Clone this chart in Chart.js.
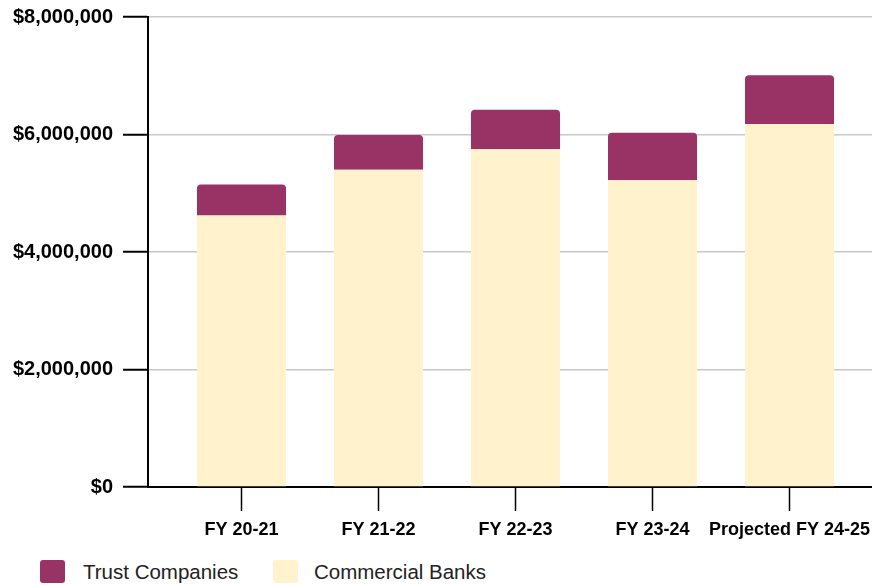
<!DOCTYPE html>
<html>
<head>
<meta charset="utf-8">
<script src="https://cdn.jsdelivr.net/npm/chart.js@4"></script>
<style>
  body { margin: 0; background: #fff; }
  #wrap { position: relative; width: 872px; height: 585px; }
  #chart { position: absolute; left: 0; top: 0; }
  #legend { position: absolute; left: 0; top: 560px; font-family: "Liberation Sans", Arial, sans-serif; font-size: 20.5px; color: #222; }
  .item { position: absolute; top: 0; height: 23px; white-space: nowrap; }
  .swatch { position: absolute; left: 0; top: 0; width: 25px; height: 23px; border-radius: 3px; }
  .label { position: absolute; top: 0; line-height: 23px; }
</style>
</head>
<body>
<div id="wrap">
  <canvas id="chart" width="872" height="550"></canvas>
  <div id="legend"></div>
</div>
<script>
// Fiscal years on the x axis
const categories = ["FY 20-21", "FY 21-22", "FY 22-23", "FY 23-24", "Projected FY 24-25"];
// Stacked amounts (dollars)
const commercialBanks = [4620000, 5400000, 5750000, 5220000, 6180000];
const trustCompanies = [530000, 590000, 670000, 810000, 830000];
const yTicks = [0, 2000000, 4000000, 6000000, 8000000];

const colors = { trust: "#993366", commercial: "#FFF2CC" };

Chart.defaults.font.family = '"Liberation Sans", Arial, sans-serif';
Chart.defaults.color = "#000";

const toPoints = arr => arr.map((v, i) => ({ x: i, y: v }));

const datasets = [
  {
    label: "Commercial Banks",
    data: toPoints(commercialBanks),
    backgroundColor: colors.commercial,
    borderWidth: 0
  },
  {
    label: "Trust Companies",
    data: toPoints(trustCompanies),
    backgroundColor: colors.trust,
    borderWidth: 0,
    borderRadius: { topLeft: 4, topRight: 4, bottomLeft: 0, bottomRight: 0 },
    borderSkipped: false
  }
];

new Chart(document.getElementById("chart"), {
  type: "bar",
  data: { datasets },
  options: {
    responsive: false,
    animation: false,
    layout: { padding: { top: 17, right: 0, bottom: 0, left: 0 } },
    categoryPercentage: 1,
    barPercentage: 0.65,
    plugins: { legend: { display: false }, tooltip: { enabled: false } },
    scales: {
      x: {
        type: "linear",
        stacked: true,
        offset: false,
        min: -0.6825,
        max: 4.602,
        afterBuildTicks: s => { s.ticks = categories.map((c, i) => ({ value: i })); },
        afterFit: s => { s.height = 63; s.paddingLeft = 0; s.paddingRight = 0; },
        grid: { offset: false, drawOnChartArea: false, drawTicks: true, tickLength: 24, tickColor: "#000", tickWidth: 1.5 },
        border: { display: true, color: "#000", width: 2 },
        ticks: {
          padding: 8,
          autoSkip: false,
          maxRotation: 0,
          font: { size: 18, weight: "bold" },
          callback: v => categories[v]
        }
      },
      y: {
        stacked: true,
        min: 0,
        max: 8000000,
        afterBuildTicks: s => { s.ticks = yTicks.map(v => ({ value: v })); },
        afterFit: s => { s.width = 148; s.paddingTop = 0; s.paddingBottom = 0; },
        grid: { color: "#c8c8c8", lineWidth: 1.5, tickLength: 25, tickColor: "#000", tickWidth: 2 },
        border: { display: true, color: "#000", width: 2 },
        ticks: {
          padding: 10,
          font: { size: 20, weight: "bold" },
          callback: v => "$" + v.toLocaleString("en-US")
        }
      }
    }
  }
});

// Legend below the plot
const legend = document.getElementById("legend");
const legendItems = [
  { text: "Trust Companies", color: colors.trust, left: 40, textLeft: 43 },
  { text: "Commercial Banks", color: colors.commercial, left: 273, textLeft: 41 }
];
legendItems.forEach(it => {
  const el = document.createElement("div");
  el.className = "item";
  el.style.left = it.left + "px";
  el.innerHTML = `<div class="swatch" style="background:${it.color}"></div><div class="label" style="left:${it.textLeft}px">${it.text}</div>`;
  legend.appendChild(el);
});
</script>
</body>
</html>
